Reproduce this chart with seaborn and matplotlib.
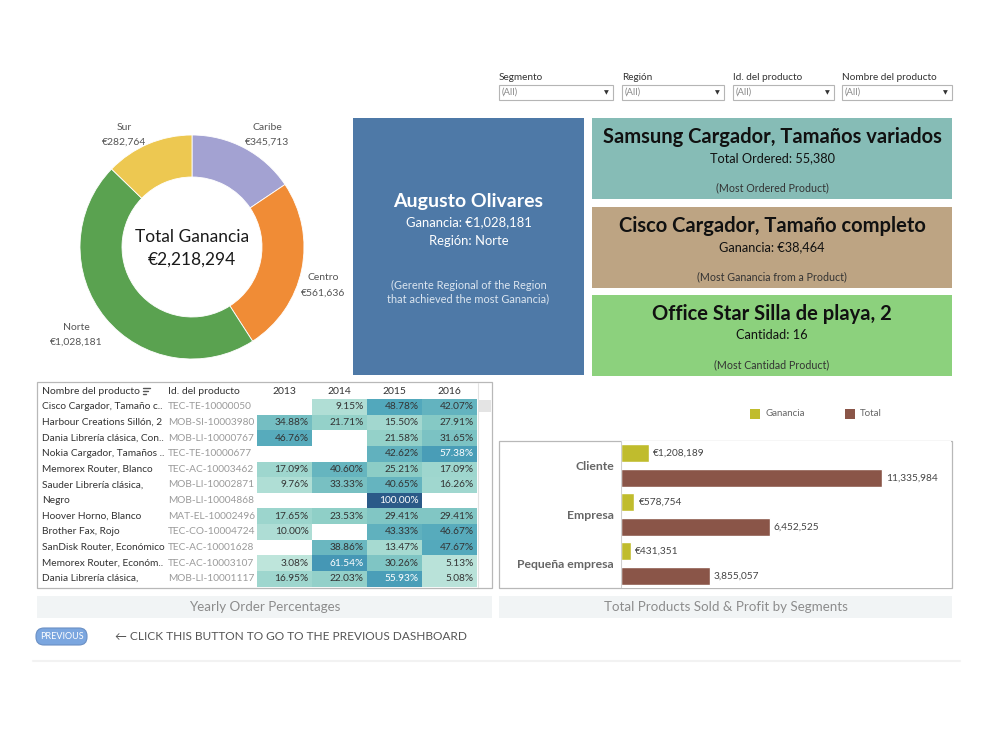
import matplotlib
matplotlib.use('Agg')

import numpy as np
import pandas as pd
import matplotlib.pyplot as plt
import seaborn as sns
from matplotlib.patches import Rectangle, FancyBboxPatch
from matplotlib.colors import LinearSegmentedColormap
from matplotlib.transforms import blended_transform_factory

# ---- data ----
regions = ['Caribe', 'Centro', 'Norte', 'Sur']
region_profit = [345713, 561636, 1028181, 282764]
region_colors = ['#a3a2d2', '#f08c36', '#5aa250', '#edc851']

filters = ['Segmento', 'Región', 'Id. del producto', 'Nombre del producto']

products = ['Cisco Cargador, Tamaño c..', 'Harbour Creations Sillón, 2',
            'Dania Librería clásica, Con..', 'Nokia Cargador, Tamaños ..',
            'Memorex Router, Blanco', 'Sauder Librería clásica,', 'Negro',
            'Hoover Horno, Blanco', 'Brother Fax, Rojo',
            'SanDisk Router, Económico', 'Memorex Router, Económ..',
            'Dania Librería clásica,']
product_ids = ['TEC-TE-10000050', 'MOB-SI-10003980', 'MOB-LI-10000767',
               'TEC-TE-10000677', 'TEC-AC-10003462', 'MOB-LI-10002871',
               'MOB-LI-10004868', 'MAT-EL-10002496', 'TEC-CO-10004724',
               'TEC-AC-10001628', 'TEC-AC-10003107', 'MOB-LI-10001117']
years = ['2013', '2014', '2015', '2016']
pct_2013 = [np.nan, 34.88, 46.76, np.nan, 17.09, 9.76, np.nan, 17.65, 10.00, np.nan, 3.08, 16.95]
pct_2014 = [9.15, 21.71, np.nan, np.nan, 40.60, 33.33, np.nan, 23.53, np.nan, 38.86, 61.54, 22.03]
pct_2015 = [48.78, 15.50, 21.58, 42.62, 25.21, 40.65, 100.00, 29.41, 43.33, 13.47, 30.26, 55.93]
pct_2016 = [42.07, 27.91, 31.65, 57.38, 17.09, 16.26, np.nan, 29.41, 46.67, 47.67, 5.13, 5.08]

segments = ['Cliente', 'Empresa', 'Pequeña empresa']
seg_profit = [1208189, 578754, 431351]
seg_total = [11335984, 6452525, 3855057]

W, H = 1000, 750

sns.set_theme(style='white')
plt.rcParams['font.family'] = ['Lato', 'DejaVu Sans']

fig = plt.figure(figsize=(10, 7.5), dpi=100)
fig.patch.set_facecolor('white')

def px_axes(x0, y0, x1, y1):
    return fig.add_axes([x0 / W, 1 - y1 / H, (x1 - x0) / W, (y1 - y0) / H])

# background axes in pixel coordinates
bg = fig.add_axes([0, 0, 1, 1])
bg.set_xlim(0, W)
bg.set_ylim(H, 0)
bg.axis('off')

# ---- filters ----
fx = [499, 622, 733, 842]
fw = [114, 102, 101, 110]
for lab, x, w in zip(filters, fx, fw):
    bg.text(x, 77, lab, fontsize=7.2, color='#333333', va='center', ha='left')
    bg.add_patch(Rectangle((x, 85), w, 15, facecolor='white', edgecolor='#b5b5b5', lw=0.8))
    bg.text(x + 3, 92.5, '(All)', fontsize=6.8, color='#8a8a8a', va='center')
    bg.text(x + w - 7, 92.5, '▼', fontsize=4.5, color='#333333', va='center', ha='center',
            family=['DejaVu Sans'])

# ---- donut ----
dn = px_axes(80, 135, 304, 359)
dn.pie(region_profit, colors=region_colors, startangle=90, counterclock=False,
       radius=1, wedgeprops=dict(width=0.375, edgecolor='white', linewidth=0.6))
dn.set_xlim(-1, 1)
dn.set_ylim(-1, 1)
dn.set_aspect('equal')
dn.text(0, 0.09, 'Total Ganancia', ha='center', va='center', fontsize=12.5, color='#1a1a1a')
dn.text(0, -0.11, '€{:,}'.format(sum(region_profit)), ha='center', va='center', fontsize=12.5,
        color='#1a1a1a')

label_pos = {'Caribe': (267, 'center'), 'Centro': (323, 'center'),
             'Norte': (76, 'center'), 'Sur': (124, 'center')}
label_y = {'Caribe': 127, 'Centro': 278, 'Norte': 327, 'Sur': 127}
for r, v in zip(regions, region_profit):
    x, ha = label_pos[r]
    y = label_y[r]
    bg.text(x, y, r, fontsize=7.5, color='#555555', ha=ha, va='center')
    bg.text(x, y + 15, '€{:,}'.format(v), fontsize=7.5, color='#555555', ha=ha, va='center')

# ---- KPI cards ----
bg.add_patch(Rectangle((353, 118), 231, 257, facecolor='#4e79a7', edgecolor='none'))
cx = 468.5
bg.text(cx, 201, 'Augusto Olivares', fontsize=14, weight='bold', color='white', ha='center', va='center')
bg.text(cx, 222, 'Ganancia: €{:,}'.format(region_profit[2]), fontsize=9.4, color='white', ha='center', va='center')
bg.text(cx, 241, 'Región: Norte', fontsize=9.4, color='white', ha='center', va='center')
bg.text(cx, 285, '(Gerente Regional of the Region', fontsize=7.9, color='#dce6f0', ha='center', va='center')
bg.text(cx, 299, 'that achieved the most Ganancia)', fontsize=7.9, color='#dce6f0', ha='center', va='center')

cards = [
    (118, '#86bcb6', 'Samsung Cargador, Tamaños variados', 'Total Ordered: 55,380', '(Most Ordered Product)'),
    (207, '#bda483', 'Cisco Cargador, Tamaño completo', 'Ganancia: €38,464', '(Most Ganancia from a Product)'),
    (295, '#8cd17d', 'Office Star Silla de playa, 2', 'Cantidad: 16', '(Most Cantidad Product)'),
]
for y0, col, title, sub, note in cards:
    bg.add_patch(Rectangle((592, y0), 360, 81, facecolor=col, edgecolor='none'))
    bg.text(772, y0 + 19, title, fontsize=14.5, weight='bold', color='#111111', ha='center', va='center')
    bg.text(772, y0 + 40, sub, fontsize=9.2, color='#111111', ha='center', va='center')
    bg.text(772, y0 + 70, note, fontsize=7.7, color='#333333', ha='center', va='center')

# ---- heat table ----
tbl = pd.DataFrame({'2013': pct_2013, '2014': pct_2014, '2015': pct_2015, '2016': pct_2016})
cmap = LinearSegmentedColormap.from_list('blueteal', ['#c4e8de', '#8ccdc6', '#4fa6bb', '#3a86ae', '#2b5a88'])
bg.add_patch(Rectangle((37, 382), 455, 206, facecolor='white', edgecolor='#b8b8b8', lw=0.9))
hm = px_axes(257, 399, 477, 586.5)
sns.heatmap(tbl, ax=hm, cmap=cmap, vmin=0, vmax=100, cbar=False, annot=False,
            linewidths=0, xticklabels=False, yticklabels=False)
hm.set_facecolor('white')
for i in range(len(products)):
    for j, yr in enumerate(years):
        v = tbl.iloc[i, j]
        if np.isnan(v):
            continue
        tc = 'white' if v > 50 else '#333333'
        hm.text(j + 0.94, i + 0.5, '{:.2f}%'.format(v), ha='right', va='center', fontsize=7.3, color=tc)

tr = blended_transform_factory(bg.transData, hm.transData)
for i, (p, pid) in enumerate(zip(products, product_ids)):
    hm.text(42, i + 0.5, p, transform=tr, fontsize=7.3, color='#333333', va='center', ha='left', clip_on=False)
    hm.text(168, i + 0.5, pid, transform=tr, fontsize=7.3, color='#9a9a9a', va='center', ha='left', clip_on=False)

bg.text(42, 391.5, 'Nombre del producto', fontsize=7.5, color='#333333', va='center')
for k, (lx, ly) in enumerate([(7, 388), (5, 391), (3, 394)]):
    bg.plot([143, 143 + lx], [ly, ly], color='#555555', lw=1.0)
bg.text(168, 391.5, 'Id. del producto', fontsize=7.5, color='#333333', va='center')
for j, yr in enumerate(years):
    bg.text(284.5 + 55 * j, 391.5, yr, fontsize=7.5, color='#333333', va='center', ha='center')
bg.plot([477.5, 477.5], [383, 587], color='#e2e2e2', lw=0.8)
bg.add_patch(Rectangle((478, 400), 13, 12, facecolor='#e4e4e4', edgecolor='none'))

# ---- segment bars ----
bars = pd.DataFrame({
    'Segmento': segments * 2,
    'Medida': ['Ganancia'] * 3 + ['Total'] * 3,
    'Valor': seg_profit + seg_total,
})
bar_colors = {'Ganancia': '#c0bc2d', 'Total': '#8a5548'}

bg.add_patch(Rectangle((499, 441), 453, 147, facecolor='white', edgecolor='#b8b8b8', lw=0.9))
bx = px_axes(621, 441, 951, 588)
sns.barplot(data=bars, y='Segmento', x='Valor', hue='Medida', palette=bar_colors,
            orient='h', width=1.0, gap=0.28, ax=bx, legend=False, saturation=1)
bx.set_xlim(0, max(seg_total) * 330 / 261)
bx.set_ylim(2.5, -0.5)
for s in bx.spines.values():
    s.set_visible(False)
bx.axvline(0, color='#d0d0d0', lw=0.8)
bx.set_xlabel('')
bx.set_ylabel('')
bx.set_xticks([])
bx.tick_params(axis='y', length=0, pad=5)
for t in bx.get_yticklabels():
    t.set_fontsize(8.8)
    t.set_fontweight('bold')
    t.set_color('#666666')
bx.bar_label(bx.containers[0], labels=['€{:,}'.format(v) for v in seg_profit],
             padding=3, fontsize=7.3, color='#444444')
bx.bar_label(bx.containers[1], labels=['{:,}'.format(v) for v in seg_total],
             padding=3, fontsize=7.3, color='#444444')

# legend
for (x, name) in [(750, 'Ganancia'), (845, 'Total')]:
    bg.add_patch(Rectangle((x, 409), 10, 10, facecolor=bar_colors[name], edgecolor='none'))
    bg.text(x + 15, 414, name, fontsize=7, color='#666666', va='center')

# ---- captions ----
bg.add_patch(Rectangle((37, 596), 455, 22, facecolor='#f1f4f5', edgecolor='none'))
bg.text(264.5, 607, 'Yearly Order Percentages', fontsize=9.6, color='#8c8c8c', ha='center', va='center')
bg.add_patch(Rectangle((499, 596), 453, 22, facecolor='#f1f4f5', edgecolor='none'))
bg.text(725.5, 607, 'Total Products Sold & Profit by Segments', fontsize=9.6, color='#8c8c8c',
        ha='center', va='center')

# ---- nav button ----
bg.add_patch(FancyBboxPatch((36, 628), 51, 17, boxstyle='round,pad=0,rounding_size=8',
                            facecolor='#7ba6df', edgecolor='#6a8fc4', lw=0.8))
bg.text(61.5, 636.5, 'PREVIOUS', fontsize=6.5, color='white', ha='center', va='center')
bg.text(115, 637, '← CLICK THIS BUTTON TO GO TO THE PREVIOUS DASHBOARD', fontsize=8.6, color='#555555',
        va='center', family=['Lato', 'DejaVu Sans'])
bg.plot([33, 960], [661, 661], color='#f2f2f2', lw=1.5)

fig.savefig('out.png', dpi=100, facecolor='white')
